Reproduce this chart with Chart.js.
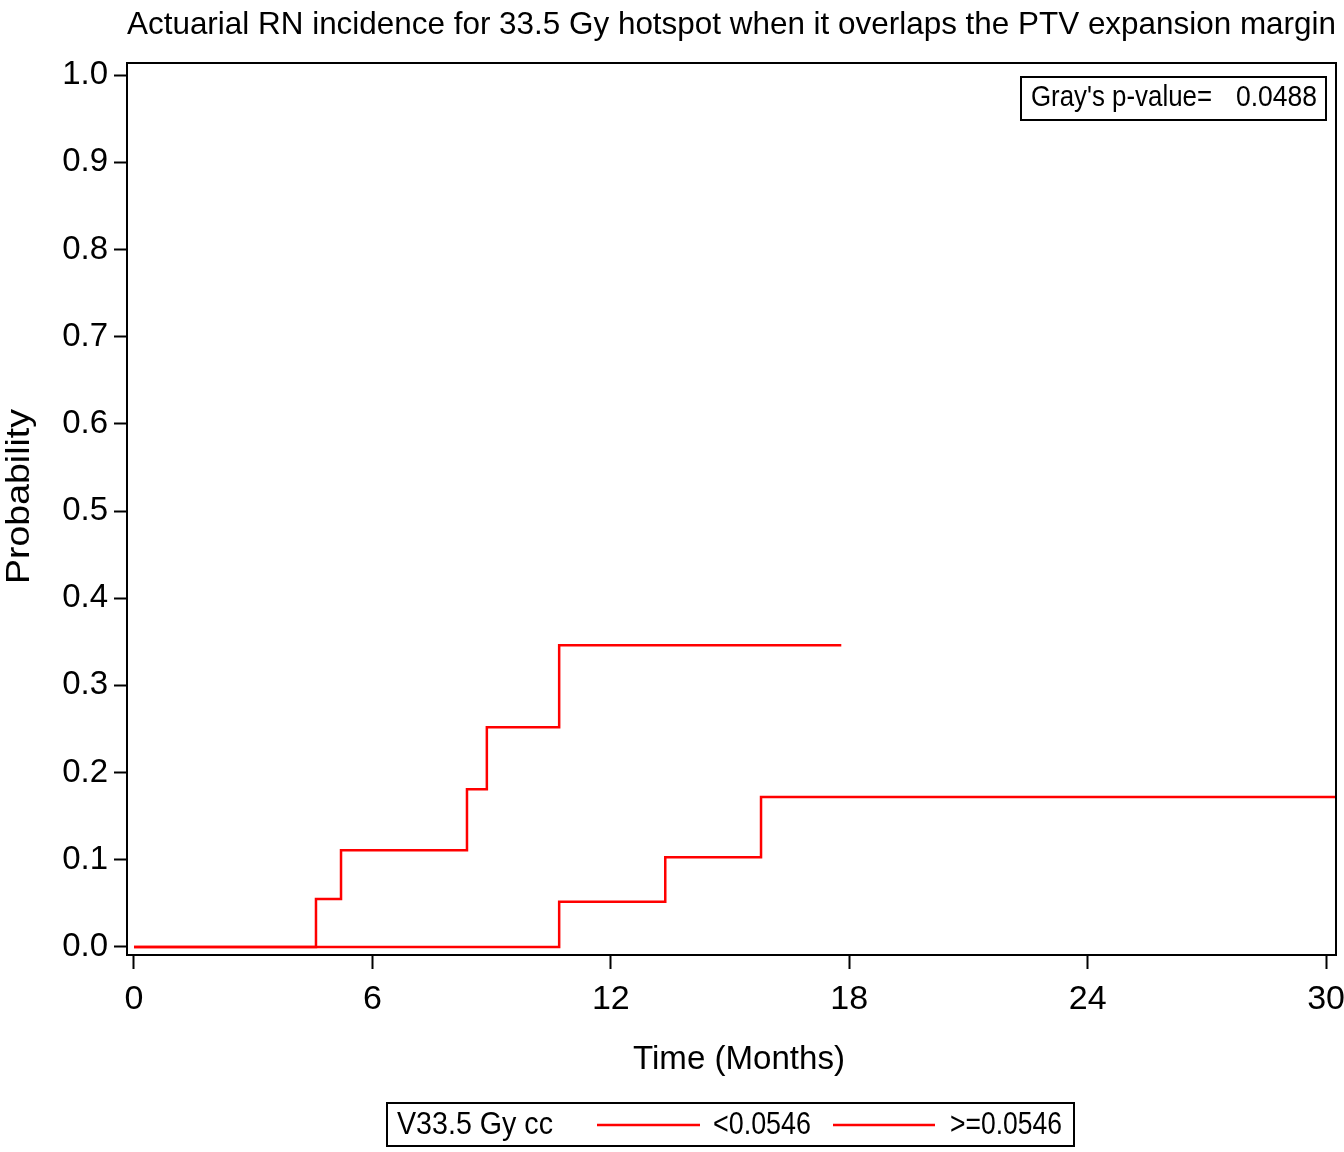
<!DOCTYPE html>
<html><head><meta charset="utf-8">
<script src="https://cdn.jsdelivr.net/npm/chart.js@4.4.0/dist/chart.umd.min.js"></script>
<style>html,body{margin:0;padding:0;background:#fff}#wrap{width:1344px;height:1152px;position:relative}</style>
</head><body><div id="wrap"><canvas id="c" width="1344" height="1152"></canvas></div>
<script>
const chartTitle = "Actuarial RN incidence for 33.5 Gy hotspot when it overlaps the PTV expansion margin";
const xAxisTitle = "Time (Months)";
const yAxisTitle = "Probability";
const pValueLabel = "Gray's p-value=";
const pValue = "0.0488";
const legendTitle = "V33.5 Gy cc";
const seriesNames = ["<0.0546", ">=0.0546"];
const xTicks = [0, 6, 12, 18, 24, 30];
const yTicks = [0.0, 0.1, 0.2, 0.3, 0.4, 0.5, 0.6, 0.7, 0.8, 0.9, 1.0];
const lowTimes = [0, 4.58, 5.21, 8.38, 8.88, 10.70, 17.80];
const lowProb  = [0, 0.055, 0.111, 0.181, 0.252, 0.346, 0.346];
const highTimes = [0, 10.70, 13.37, 15.78, 30.25];
const highProb  = [0, 0.052, 0.103, 0.172, 0.172];

const FONT = "'Liberation Sans Narrow','Arial Narrow','Liberation Sans',Arial,sans-serif";
const RED = '#ff0000';

function fillFit(ctx, text, x, y, w, size, align) {
  ctx.save();
  ctx.font = size + 'px ' + FONT;
  ctx.textBaseline = 'middle';
  const m = ctx.measureText(text).width;
  const s = w / m;
  ctx.translate(x, y);
  ctx.scale(s, 1);
  ctx.textAlign = align || 'left';
  ctx.fillStyle = '#000';
  ctx.fillText(text, 0, 0);
  ctx.restore();
}

const decor = {
  id: 'decor',
  afterDraw(chart) {
    const ctx = chart.ctx;
    const a = chart.chartArea;
    ctx.save();
    ctx.strokeStyle = '#000';
    ctx.lineWidth = 2;
    ctx.strokeRect(a.left, a.top, a.right - a.left, a.bottom - a.top);
    fillFit(ctx, chartTitle, 127, 25, 1209, 32, 'left');
    fillFit(ctx, xAxisTitle, 633, 1060, 212, 34, 'left');
    ctx.save();
    ctx.translate(20, 497);
    ctx.rotate(-Math.PI / 2);
    fillFit(ctx, yAxisTitle, -87, 0, 175, 34, 'left');
    ctx.restore();
    ctx.lineWidth = 2;
    ctx.strokeRect(1021, 77, 305, 43);
    fillFit(ctx, pValueLabel, 1031, 98, 181, 29, 'left');
    fillFit(ctx, pValue, 1236, 98, 81, 29, 'left');
    ctx.strokeRect(387, 1103, 687, 43);
    fillFit(ctx, legendTitle, 397, 1125, 156, 31, 'left');
    ctx.strokeStyle = RED;
    ctx.lineWidth = 2.5;
    ctx.beginPath(); ctx.moveTo(597, 1125); ctx.lineTo(700, 1125); ctx.stroke();
    ctx.beginPath(); ctx.moveTo(833, 1125); ctx.lineTo(935, 1125); ctx.stroke();
    fillFit(ctx, seriesNames[0], 713, 1125, 98, 31, 'left');
    fillFit(ctx, seriesNames[1], 950, 1125, 112, 31, 'left');
    ctx.restore();
  }
};

new Chart(document.getElementById('c'), {
  type: 'line',
  data: {
    datasets: [
      { label: seriesNames[0], data: lowTimes.map((t, i) => ({x: t, y: lowProb[i]})),
        borderColor: RED, borderWidth: 2.5, pointRadius: 0, stepped: true, fill: false },
      { label: seriesNames[1], data: highTimes.map((t, i) => ({x: t, y: highProb[i]})),
        borderColor: RED, borderWidth: 2.5, pointRadius: 0, stepped: true, fill: false }
    ]
  },
  options: {
    responsive: false,
    animation: false,
    devicePixelRatio: 1,
    layout: { padding: { top: 63, right: 8, bottom: 0, left: 0 } },
    plugins: { legend: { display: false }, tooltip: { enabled: false }, title: { display: false } },
    scales: {
      x: {
        type: 'linear', min: -0.176, max: 30.25,
        afterBuildTicks: s => { s.ticks = xTicks.map(v => ({ value: v })); },
        afterFit: s => { s.height = 197; s.paddingLeft = 0; s.paddingRight = 0; },
        grid: { drawOnChartArea: false, drawTicks: true, tickLength: 14, tickColor: '#000', tickWidth: 2 },
        border: { display: false },
        ticks: { color: '#000', padding: 10, maxRotation: 0, autoSkip: false,
                 font: { family: FONT, size: 34 }, callback: v => String(v) }
      },
      y: {
        type: 'linear', min: -0.0092, max: 1.0138,
        afterBuildTicks: s => { s.ticks = yTicks.map(v => ({ value: v })); },
        afterFit: s => { s.width = 127; s.paddingTop = 0; s.paddingBottom = 0; },
        grid: { drawOnChartArea: false, drawTicks: true, tickLength: 13, tickColor: '#000', tickWidth: 2 },
        border: { display: false },
        ticks: { color: '#000', padding: 6, autoSkip: false,
                 font: { family: FONT, size: 33 }, callback: v => v.toFixed(1) }
      }
    }
  },
  plugins: [decor]
});
</script></body></html>
